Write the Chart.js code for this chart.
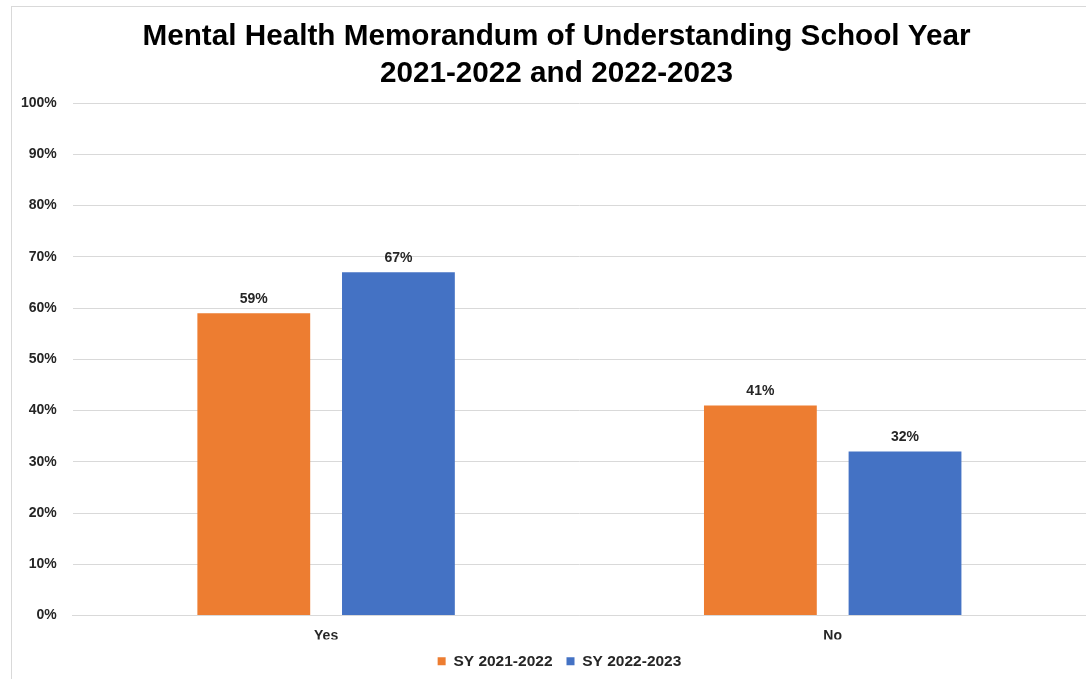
<!DOCTYPE html>
<html>
<head>
<meta charset="utf-8">
<script src="https://cdn.jsdelivr.net/npm/chart.js@4.4.1/dist/chart.umd.min.js"></script>
<style>
  html, body { margin: 0; padding: 0; background: #fff; }
  #wrap { position: relative; width: 1086px; height: 679px; overflow: hidden; }
  #frame { position: absolute; left: 11px; top: 6px; width: 1200px; height: 800px;
           border-left: 1px solid #d9d9d9; border-top: 1px solid #d9d9d9; }
  canvas { position: absolute; left: 0; top: 0; }
</style>
</head>
<body>
<div id="wrap">
  <div id="frame"></div>
  <canvas id="chart" width="1086" height="679"></canvas>
</div>
<script>
// chart data
const categories = ['Yes', 'No'];
const sy2122 = [59, 41];
const sy2223 = [67, 32];
const seriesNames = ['SY 2021-2022', 'SY 2022-2023'];
const yTicks = [0, 10, 20, 30, 40, 50, 60, 70, 80, 90, 100];

// draws the value on top of each bar
const barLabels = {
    id: 'barLabels',
    afterLayout(chart) {
        // title and legend in the original sit centred on the whole frame, a bit right of the plot
        if (chart.titleBlock) {
            chart.titleBlock.left += 11;
            chart.titleBlock.right += 11;
        }
        if (chart.legend) {
            chart.legend.left += 14;
            chart.legend.right += 14;
        }
    },
    afterDatasetsDraw(chart) {
        const ctx = chart.ctx;
        ctx.save();
        ctx.font = 'bold 14px "Liberation Sans", Arial, sans-serif';
        ctx.fillStyle = '#262626';
        ctx.textAlign = 'center';
        ctx.textBaseline = 'bottom';
        chart.data.datasets.forEach((ds, i) => {
            chart.getDatasetMeta(i).data.forEach((bar, j) => {
                ctx.fillText(ds.data[j] + '%', bar.x, bar.y - 7);
            });
        });
        ctx.restore();
    }
};

const ctx = document.getElementById('chart').getContext('2d');
new Chart(ctx, {
    type: 'bar',
    data: {
        labels: categories,
        datasets: [{
            label: seriesNames[0],
            data: sy2122,
            backgroundColor: '#ED7D31'
        }, {
            label: seriesNames[1],
            data: sy2223,
            backgroundColor: '#4472C4'
        }]
    },
    options: {
        responsive: false,
        animation: false,
        devicePixelRatio: 1,
        categoryPercentage: 0.571,
        barPercentage: 0.78,
        layout: { padding: { left: 5, right: 0, top: 19, bottom: 0 } },
        plugins: {
            title: {
                display: true,
                text: ['Mental Health Memorandum of Understanding School Year', '2021-2022 and 2022-2023'],
                color: '#000',
                font: { family: '"Liberation Sans", Arial, sans-serif', size: 29.7, weight: 'bold', lineHeight: 1.23 },
                padding: { top: 0, bottom: 11 }
            },
            legend: {
                position: 'bottom',
                labels: {
                    boxWidth: 8,
                    boxHeight: 8,
                    padding: 14,
                    color: '#262626',
                    font: { family: '"Liberation Sans", Arial, sans-serif', size: 15.5, weight: 'bold' }
                }
            },
            tooltip: { enabled: false }
        },
        scales: {
            x: {
                grid: { display: false, drawTicks: false },
                border: { color: '#d9d9d9' },
                afterFit: axis => { axis.height = 24; },
                ticks: {
                    color: '#262626',
                    padding: 12,
                    font: { family: '"Liberation Sans", Arial, sans-serif', size: 14, weight: 'bold' }
                }
            },
            y: {
                min: 0,
                max: 100,
                afterBuildTicks: axis => { axis.ticks = yTicks.map(v => ({ value: v })); },
                grid: { color: '#d9d9d9', drawTicks: false },
                border: { display: false },
                ticks: {
                    color: '#262626',
                    padding: 16,
                    font: { family: '"Liberation Sans", Arial, sans-serif', size: 14, weight: 'bold' },
                    callback: v => v + '%'
                }
            }
        }
    },
    plugins: [barLabels]
});
</script>
</body>
</html>
